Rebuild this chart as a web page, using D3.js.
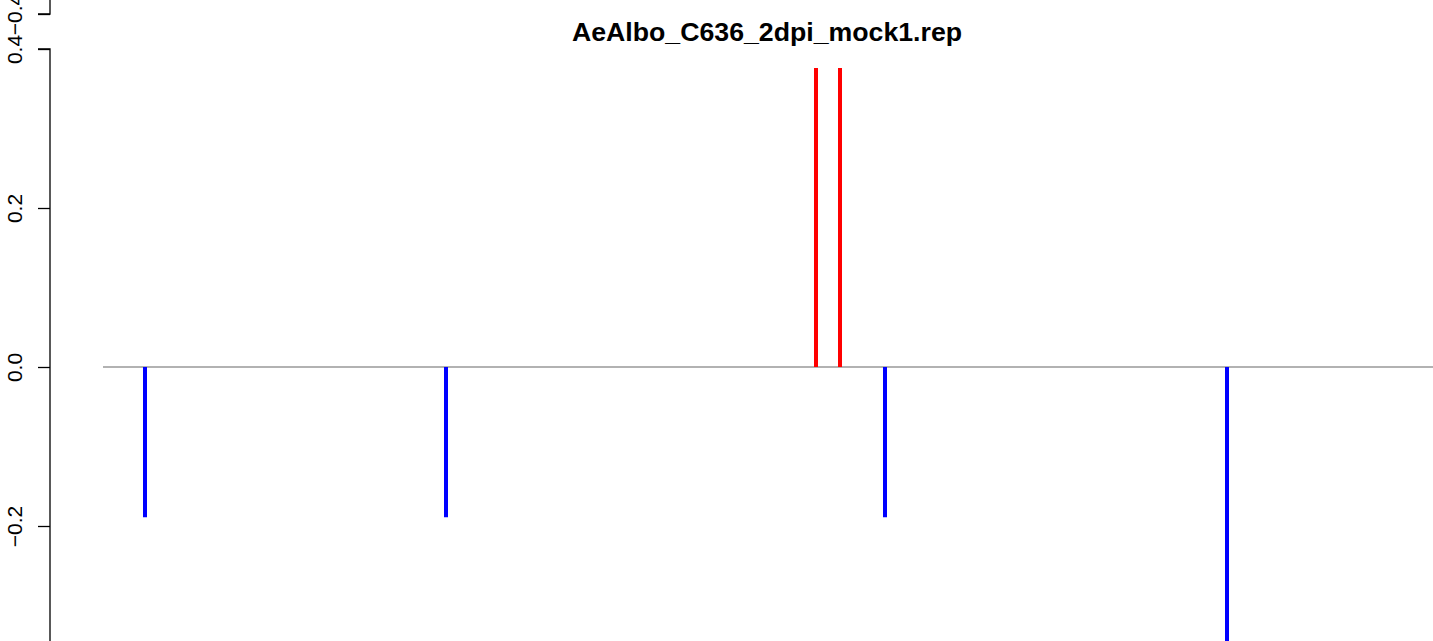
<!DOCTYPE html>
<html lang="en">
<head>
<meta charset="UTF-8">
<title>AeAlbo_C636_2dpi_mock1.rep</title>
<script src="https://cdn.jsdelivr.net/npm/d3@7"></script>
<style>
  body { margin: 0; background: #fff; }
  svg { display: block; font-family: "Liberation Sans", Arial, sans-serif; }
</style>
</head>
<body>
<div id="vis"></div>
<script>
var width = 1433, height = 641;

// data
var title = "AeAlbo_C636_2dpi_mock1.rep";
var positions = [42, 343, 713, 737, 782, 1124];
var values = [-0.189, -0.189, 0.376, 0.376, -0.189, -0.36];
var yTicks = [-0.2, 0.0, 0.2, 0.4];
var xExtent = [0, 1330];

var svg = d3.select("#vis").append("svg")
    .attr("width", width)
    .attr("height", height);

var x = d3.scaleLinear().domain(xExtent).range([103, 1433]);
var y = d3.scaleLinear().domain([-0.2, 0.4]).range([526, 49]);

// clip so the long bar runs off the bottom like the original
svg.append("defs").append("clipPath").attr("id", "clip")
  .append("rect").attr("x", 0).attr("y", 0).attr("width", width).attr("height", height);

// zero line
svg.append("line")
    .attr("x1", x(xExtent[0])).attr("x2", x(xExtent[1]))
    .attr("y1", y(0)).attr("y2", y(0))
    .attr("stroke", "#999").attr("stroke-width", 1.5);

// bars
svg.append("g").attr("clip-path", "url(#clip)")
  .selectAll("line").data(positions).enter().append("line")
    .attr("x1", function(d) { return x(d); })
    .attr("x2", function(d) { return x(d); })
    .attr("y1", y(0))
    .attr("y2", function(d, i) { return y(values[i]); })
    .attr("stroke", function(d, i) { return values[i] > 0 ? "#ff0000" : "#0000ff"; })
    .attr("stroke-width", 4);

// y axis
var axisG = svg.append("g").attr("transform", "translate(50,0)");
var yAxis = d3.axisLeft(y).tickValues(yTicks).tickSize(12).tickFormat(d3.format(".1f"));
axisG.call(yAxis);
axisG.select(".domain").attr("d", "M-12," + y(0.4) + "H0V" + height);

// leftover axis piece from the panel above
var yPrev = d3.scaleLinear().domain([-0.4, -0.3]).range([14, -65]);
var prevG = svg.append("g").attr("transform", "translate(50,0)");
prevG.call(d3.axisLeft(yPrev).tickValues([-0.4]).tickSize(12).tickFormat(d3.format(".1f")));
prevG.select(".domain").attr("d", "M0,0V14H-12");

svg.selectAll(".tick line").attr("stroke", "#000").attr("stroke-width", 1.3);
svg.selectAll(".domain").attr("stroke", "#000").attr("stroke-width", 1.3).attr("fill", "none");
svg.selectAll(".tick text")
    .attr("x", null).attr("dy", null)
    .attr("transform", "translate(-28,0) rotate(-90)")
    .attr("text-anchor", "middle")
    .attr("font-size", 21)
    .attr("font-family", "Liberation Sans, Arial, sans-serif")
    .attr("fill", "#000");

// title
svg.append("text")
    .attr("x", 767).attr("y", 41)
    .attr("text-anchor", "middle")
    .attr("font-size", 26.7)
    .attr("font-weight", "bold")
    .text(title);
</script>
</body>
</html>
